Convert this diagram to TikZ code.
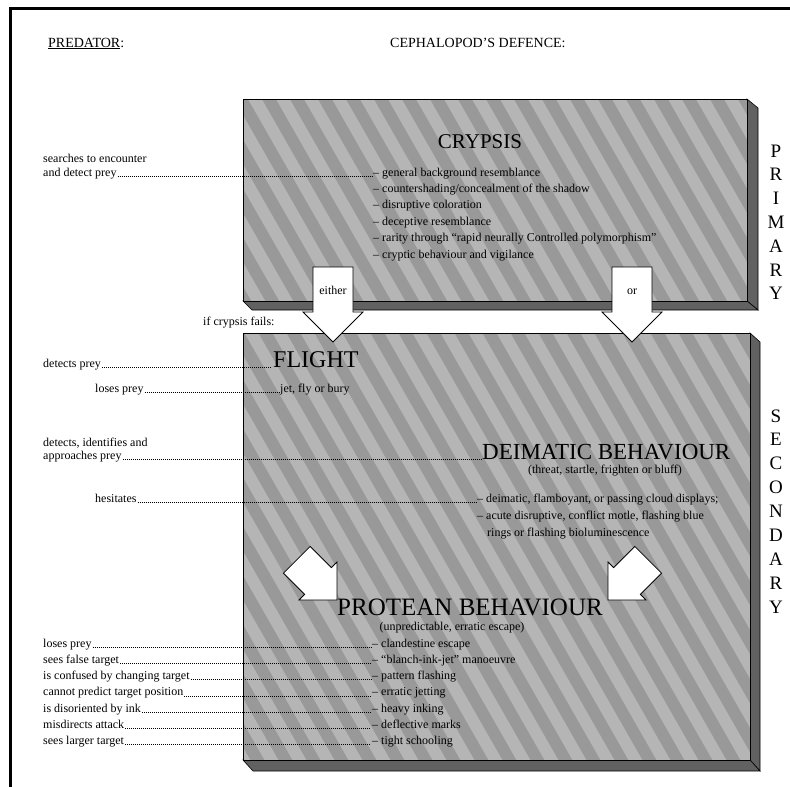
\documentclass[tikz,border=0pt]{standalone}
\usepackage{fontspec}
\setmainfont{Liberation Serif}
\usetikzlibrary{positioning}

\tikzset{
  slab/.style={draw=black, line width=0.8pt},
  slabface/.style={fill=black!40},
  slabside/.style={draw=black, line width=0.6pt, fill=black!62},
  stripe/.style={white, opacity=0.28, line width=12pt},
  blockarrow/.style={draw=black, line width=0.8pt, fill=white, line join=miter},
  small/.style={font=\fontsize{12}{14}\selectfont, inner sep=0pt},
  heading/.style={font=\fontsize{14}{16}\selectfont, inner sep=0pt},
  leader/.style={line width=0.7pt, dash pattern=on 0.7pt off 1.3pt, shorten <=1pt, shorten >=1pt},
  sideletter/.style={font=\fontsize{19}{21}\selectfont, inner sep=0pt, anchor=base},
}

\begin{document}
\begin{tikzpicture}[x=1pt, y=-1pt]
\useasboundingbox (0,0) rectangle (790,787);
\fill[white] (0,0) rectangle (790,787);

% page frame
\draw[line width=3pt] (10,787) -- (10,8) -- (790,8);

% titles
\node[heading, anchor=base west] (predator) at (48,47) {\underline{PREDATOR}:};
\node[heading, anchor=base west] (defence) at (390,47) {CEPHALOPOD'S DEFENCE:};

% crypsis slab
\draw[slabside] (747,99) -- (758,108) -- (758,310) -- (747,301) -- cycle;
\draw[slabside] (243,301) -- (747,301) -- (758,310) -- (252,310) -- cycle;
\begin{scope}
  \clip (243,99) rectangle (747,301);
  \fill[slabface] (243,99) rectangle (747,301);
  \foreach \s in {-400,-372,...,780}
    \draw[stripe] (\s,80) -- ++(400,700);
\end{scope}
\draw[slab] (243,99) rectangle (747,301);

% lower slab
\draw[slabside] (750,333) -- (760,342) -- (760,771) -- (750,760) -- cycle;
\draw[slabside] (243,760) -- (750,760) -- (760,771) -- (253,771) -- cycle;
\begin{scope}
  \clip (243,333) rectangle (750,760);
  \fill[slabface] (243,333) rectangle (750,760);
  \foreach \s in {-400,-372,...,780}
    \draw[stripe] (\s,320) -- ++(400,700);
\end{scope}
\draw[slab] (243,333) rectangle (750,760);

% block arrows
\draw[blockarrow] (313,267) -- (353,267) -- (353,312) -- (363,312) -- (333,342)
  -- (303,312) -- (313,312) -- cycle;
\draw[blockarrow] (612,267) -- (652,267) -- (652,312) -- (662,312) -- (632,342)
  -- (602,312) -- (612,312) -- cycle;
\draw[blockarrow] (337,600) -- (337,562) -- (331.4,567.6) -- (310.2,546.4)
  -- (283.4,573.2) -- (304.6,594.4) -- (299,600) -- cycle;
\draw[blockarrow] (608,600) -- (608,562) -- (613.6,567.6) -- (634.8,546.4)
  -- (661.6,573.2) -- (640.4,594.4) -- (646,600) -- cycle;

\node[small, anchor=base] (either) at (333,294) {either};
\node[small, anchor=base] (or) at (632,294) {or};

% crypsis
\node[font=\fontsize{21}{24}\selectfont, inner sep=0pt, anchor=base] (crypsis) at (480,148) {CRYPSIS};
\foreach \txt [count=\i] in {
  {-- general background resemblance},
  {-- countershading/concealment of the shadow},
  {-- disruptive coloration},
  {-- deceptive resemblance},
  {-- rarity through ``rapid neurally Controlled polymorphism''},
  {-- cryptic behaviour and vigilance}}
  \node[small, anchor=base west] (c\i) at (373,159.6+16.4*\i) {\txt};

\node[small, anchor=base west] (searches) at (43,162) {searches to encounter};
\node[small, anchor=base west] (detect) at (43,176) {and detect prey};
\draw[leader] (detect.base east) -- (c1.base west);

\node[small, anchor=base west] (fails) at (203,325) {if crypsis fails:};

% flight
\node[font=\fontsize{24}{28}\selectfont, inner sep=0pt, anchor=base west] (flight) at (273,367) {FLIGHT};
\node[small, anchor=base west] (detects) at (43,367) {detects prey};
\draw[leader] (detects.base east) -- (flight.base west);
\node[small, anchor=base west] (loses) at (95,392) {loses prey};
\node[small, anchor=base west] (jet) at (280,392) {jet, fly or bury};
\draw[leader] (loses.base east) -- (jet.base west);

% deimatic behaviour
\node[font=\fontsize{23}{26}\selectfont, inner sep=0pt, anchor=base west] (deimatic) at (482,459) {DEIMATIC BEHAVIOUR};
\node[small, anchor=base] (threat) at (605,473) {(threat, startle, frighten or bluff)};
\node[small, anchor=base west] (identifies) at (43,446) {detects, identifies and};
\node[small, anchor=base west] (approaches) at (43,459) {approaches prey};
\draw[leader] (approaches.base east) -- (deimatic.base west);
\node[small, anchor=base west] (hesitates) at (95,502) {hesitates};
\node[small, anchor=base west] (d1) at (477,502) {-- deimatic, flamboyant, or passing cloud displays;};
\node[small, anchor=base west] (d2) at (477,519) {-- acute disruptive, conflict motle, flashing blue};
\node[small, anchor=base west] (d3) at (487,536) {rings or flashing bioluminescence};
\draw[leader] (hesitates.base east) -- (d1.base west);

% protean behaviour
\node[font=\fontsize{25}{28}\selectfont, inner sep=0pt, anchor=base] (protean) at (470,615) {PROTEAN BEHAVIOUR};
\node[small, anchor=base] (erratic) at (452,630) {(unpredictable, erratic escape)};
\foreach \act/\res [count=\i from 0] in {
  loses prey/-- clandestine escape,
  sees false target/-- ``blanch-ink-jet'' manoeuvre,
  is confused by changing target/-- pattern flashing,
  cannot predict target position/-- erratic jetting,
  is disoriented by ink/-- heavy inking,
  misdirects attack/-- deflective marks,
  sees larger target/-- tight schooling}
{
  \node[small, anchor=base west] (a\i) at (43,647+16.3*\i) {\act};
  \node[small, anchor=base west] (r\i) at (372,647+16.3*\i) {\res};
  \draw[leader] (a\i.base east) -- (r\i.base west);
}

% primary / secondary
\foreach \l [count=\i from 0] in {P,R,I,M,A,R,Y}
  \node[sideletter] (p\i) at (776,157+23.8*\i) {\l};
\foreach \l [count=\i from 0] in {S,E,C,O,N,D,A,R,Y}
  \node[sideletter] (s\i) at (776,422+23.9*\i) {\l};
\end{tikzpicture}
\end{document}
